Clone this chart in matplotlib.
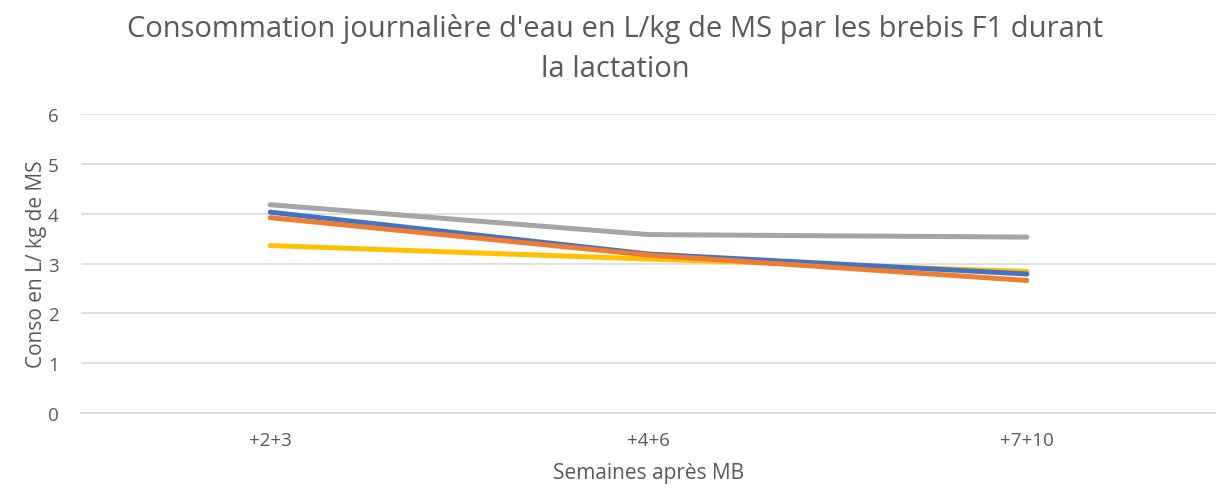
import matplotlib.pyplot as plt

plt.rcParams['font.family'] = ['Open Sans', 'DejaVu Sans']

categories = ['+2+3', '+4+6', '+7+10']
serie_bleue = [4.03, 3.19, 2.79]
serie_orange = [3.92, 3.17, 2.66]
serie_grise = [4.18, 3.58, 3.53]
serie_jaune = [3.36, 3.09, 2.84]

text_color = '#595959'

fig = plt.figure(figsize=(12.16, 4.89), dpi=100)
ax = fig.add_axes([81 / 1216, 1 - 414 / 489, 1135 / 1216, 299 / 489])

x = range(len(categories))
ax.plot(x, serie_bleue, color='#4472C4', lw=3.6, solid_capstyle='round', zorder=3)
ax.plot(x, serie_orange, color='#ED7D31', lw=3.6, solid_capstyle='round', zorder=3)
ax.plot(x, serie_grise, color='#A5A5A5', lw=3.6, solid_capstyle='round', zorder=2)
ax.plot(x, serie_jaune, color='#FFC000', lw=3.6, solid_capstyle='round', zorder=2)

ax.set_xlim(-0.5, 2.5)
ax.set_ylim(0, 6)
ax.set_yticks(range(7))
ax.set_xticks(list(x))
ax.set_xticklabels(categories)
ax.grid(axis='y', color='#D9D9D9', lw=1.2)
ax.set_axisbelow(True)
for s in ['top', 'right', 'left']:
    ax.spines[s].set_visible(False)
ax.spines['bottom'].set_color('#D9D9D9')
ax.spines['bottom'].set_linewidth(1.2)
ax.tick_params(length=0, colors=text_color, labelsize=13.5, pad=13)
ax.tick_params(axis='y', pad=16)

ax.set_xlabel('Semaines après MB', color=text_color, fontsize=15, labelpad=9)
ax.set_ylabel('Conso en L/ kg de MS', color=text_color, fontsize=15, labelpad=1)

fig.text(0.506, 0.972, "Consommation journalière d'eau en L/kg de MS par les brebis F1 durant\nla lactation",
         ha='center', va='top', fontsize=21, color=text_color, linespacing=1.5)

fig.savefig('out.png', dpi=100)
